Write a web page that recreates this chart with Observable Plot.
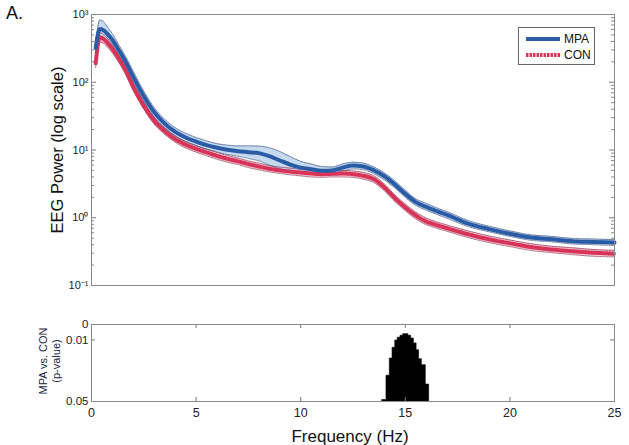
<!DOCTYPE html>
<html><head><meta charset="utf-8">
<script src="https://cdn.jsdelivr.net/npm/d3@7"></script>
<script src="https://cdn.jsdelivr.net/npm/@observablehq/plot@0.6"></script>
<style>
body{margin:0;background:#fff;font-family:"Liberation Sans",Arial,sans-serif;}
#wrap{position:relative;width:629px;height:445px;overflow:hidden;background:#fff}
#wrap svg{display:block}
.lbl{position:absolute;white-space:nowrap;color:#111;line-height:1}
</style></head><body>
<div id="wrap">
  <div id="top"></div>
  <div id="bot"></div>
  <div class="lbl" style="left:6px;top:4px;font-size:18px;">A.</div>
  <div class="lbl" id="ylab1" style="left:57px;top:150px;font-size:16.5px;transform:translate(-50%,-50%) rotate(-90deg);">EEG Power (log scale)</div>
  <div class="lbl" style="left:49px;top:361px;font-size:11px;color:#1b2140;text-align:center;line-height:12.5px;transform:translate(-50%,-50%) rotate(-90deg);">MPA vs. CON<br>(p-value)</div>
  <div class="lbl" style="left:350px;top:436px;font-size:17px;transform:translate(-50%,-50%);">Frequency (Hz)</div>
  <div id="legend" style="position:absolute;left:518px;top:27px;width:75px;height:36px;border:1px solid #666;background:#fff;">
    <svg width="75" height="36" style="position:absolute;left:0;top:0">
      <line x1="7" y1="11" x2="41" y2="11" stroke="#2a5ca6" stroke-width="4"/>
      <line x1="7" y1="27" x2="41" y2="27" stroke="#d8345a" stroke-width="4" stroke-dasharray="2.5,1"/>
      <text x="45" y="15" font-size="12" font-family="Liberation Sans, Arial, sans-serif" fill="#111">MPA</text>
      <text x="45" y="31" font-size="12" font-family="Liberation Sans, Arial, sans-serif" fill="#111">CON</text>
    </svg>
  </div>
</div>
<script>
// ---- Data ----
const freq = [0.2,0.4,0.6,0.8,1.0,1.3,1.6,2.0,2.5,3.0,3.5,4.0,4.5,5.0,5.5,6.0,6.5,7.0,7.5,8.0,8.5,9.0,9.5,10.0,10.5,11.0,11.5,12.0,12.5,13.0,13.5,14.0,14.5,15.0,15.5,16.0,16.5,17.0,18.0,19.0,20.0,21.0,22.0,23.0,24.0,25.0];
const mpaMean = [320,610,580,500,420,300,210,120,62,36,24.5,18.5,15.3,13.3,11.8,10.8,10.1,9.6,9.3,9.0,8.1,7.0,6.1,5.5,5.2,4.95,5.0,5.5,5.9,5.7,5.0,4.1,3.1,2.25,1.7,1.45,1.25,1.1,0.82,0.68,0.58,0.51,0.48,0.45,0.44,0.43];
const mpaLo = [260,470,440,400,340,250,175,100,52,30.5,21,16,13.3,11.6,10.3,9.4,8.6,8.1,7.5,6.9,6.0,5.3,4.8,4.6,4.4,4.3,4.45,4.9,5.25,5.1,4.45,3.6,2.75,2.0,1.52,1.29,1.12,0.98,0.74,0.62,0.53,0.465,0.44,0.41,0.40,0.39];
const mpaHi = [390,830,770,630,520,360,252,144,74,42,28.5,21.3,17.6,15.3,13.6,12.4,11.8,11.5,11.5,11.4,10.8,9.5,8.0,6.8,6.2,5.7,5.6,6.2,6.6,6.4,5.6,4.6,3.5,2.55,1.9,1.63,1.4,1.23,0.91,0.75,0.64,0.56,0.53,0.495,0.485,0.475];
const conMean = [190,460,430,370,310,225,155,85,45,27,19,14.5,12.0,10.4,9.2,8.2,7.4,6.8,6.2,5.7,5.3,5.0,4.8,4.65,4.5,4.4,4.45,4.5,4.4,4.15,3.7,2.8,1.95,1.42,1.08,0.88,0.78,0.70,0.57,0.48,0.42,0.37,0.34,0.32,0.305,0.295];
const conLo = [165,390,370,320,270,197,137,75,40,24,17,13,10.7,9.3,8.2,7.3,6.6,6.1,5.5,5.1,4.75,4.5,4.3,4.15,4.0,3.95,4.0,4.0,3.95,3.7,3.3,2.5,1.74,1.27,0.96,0.79,0.70,0.63,0.51,0.43,0.375,0.33,0.305,0.285,0.27,0.265];
const conHi = [220,540,500,425,355,255,175,96,51,30.3,21.3,16.2,13.4,11.6,10.3,9.2,8.3,7.6,6.9,6.4,5.9,5.6,5.4,5.2,5.0,4.9,5.0,5.0,4.9,4.65,4.15,3.15,2.18,1.59,1.21,0.99,0.87,0.78,0.64,0.54,0.47,0.415,0.38,0.36,0.34,0.33];

// p-value bins (start Hz, end Hz, p)
const pStart = [13.91,14.10,14.26,14.39,14.52,14.64,14.77,14.90,15.15,15.28,15.41,15.54,15.66,15.79,15.98];
const pEnd   = [14.10,14.26,14.39,14.52,14.64,14.77,14.90,15.15,15.28,15.41,15.54,15.66,15.79,15.98,16.14];
const pVal   = [0.049,0.0333,0.0221,0.0151,0.0104,0.0086,0.0073,0.0063,0.0073,0.0091,0.0123,0.0167,0.0225,0.0264,0.039];

// ticks
const yTicksTop = [0.1,1,10,100,1000];
const yTickLabelsTop = ["10\u207B\u00B9","10\u2070","10\u00B9","10\u00B2","10\u00B3"];
const yMinorTop = [0.2,0.3,0.4,0.5,0.6,0.7,0.8,0.9,2,3,4,5,6,7,8,9,20,30,40,50,60,70,80,90,200,300,400,500,600,700,800,900];
const xTicks = [0,5,10,15,20,25];
const xTicksInner = [5,10,15,20];
const yTicksBot = [0,0.01,0.05];
const yTickLabelsBot = ["0","0.01","0.05"];

// ---- Build ----
const rows = freq.map((f,i)=>({f, m:mpaMean[i], mlo:mpaLo[i], mhi:mpaHi[i], c:conMean[i], clo:conLo[i], chi:conHi[i]}));
// step outline of the significance bins (each bin start + final bin end)
const steps = pStart.map((s,i)=>({x:s, p:pVal[i]}));
steps.push({x:pEnd[pEnd.length-1], p:pVal[pVal.length-1]});
const topLab = new Map(yTicksTop.map((t,i)=>[t,yTickLabelsTop[i]]));
const botLab = new Map(yTicksBot.map((t,i)=>[t,yTickLabelsBot[i]]));
const curve = "monotone-x";
const font = "Liberation Sans, Arial, sans-serif";
const W = 629, ML = 91, MR = 15, PW = W-ML-MR;

const topPlot = Plot.plot({
  width: W, height: 300, marginLeft: ML, marginRight: MR, marginTop: 14, marginBottom: 15,
  style: {fontFamily: font, fontSize: "11px", color: "#222", background: "transparent"},
  x: {domain: [0,25], axis: null},
  y: {type: "log", domain: [0.1,1000], axis: null},
  marks: [
    Plot.areaY(rows, {x:"f", y1:"clo", y2:"chi", fill:"#efc6d1", curve}),
    Plot.areaY(rows, {x:"f", y1:"mlo", y2:"mhi", fill:"#bcd3ec", fillOpacity:0.85, curve}),
    Plot.line(rows, {x:"f", y:"clo", stroke:"#8c2e4e", strokeWidth:0.7, strokeDasharray:"2,1", curve}),
    Plot.line(rows, {x:"f", y:"chi", stroke:"#8c2e4e", strokeWidth:0.7, strokeDasharray:"2,1", curve}),
    Plot.line(rows, {x:"f", y:"mlo", stroke:"#3b4f7e", strokeWidth:0.7, strokeDasharray:"2,1", curve}),
    Plot.line(rows, {x:"f", y:"mhi", stroke:"#3b4f7e", strokeWidth:0.7, strokeDasharray:"2,1", curve}),
    Plot.line(rows, {x:"f", y:"c", stroke:"#d8345a", strokeWidth:4, strokeDasharray:"2.5,1", curve}),
    Plot.line(rows, {x:"f", y:"m", stroke:"#2a5ca6", strokeWidth:4, curve}),
    Plot.axisY(yTicksTop, {tickSize:0, tickPadding:3, tickFormat: d=>topLab.get(d), fontSize:11, label:null, fill:"#222"}),
    Plot.tickY(yTicksTop, {y:d=>d, insetRight:PW-5, stroke:"#777"}),
    Plot.tickY(yTicksTop, {y:d=>d, insetLeft:PW-5, stroke:"#777"}),
    Plot.tickY(yMinorTop, {y:d=>d, insetRight:PW-3, stroke:"#888"}),
    Plot.tickY(yMinorTop, {y:d=>d, insetLeft:PW-3, stroke:"#888"}),
    Plot.frame({stroke:"#8a8a8a"})
  ]
});
document.getElementById("top").append(topPlot);

const PH = 145-24-44;
const botPlot = Plot.plot({
  width: W, height: 145, marginLeft: ML, marginRight: MR, marginTop: 24, marginBottom: 44,
  style: {fontFamily: font, fontSize: "12px", color: "#222", background: "transparent"},
  x: {domain: [0,25], axis: null},
  y: {domain: [0.05,0], axis: null},
  marks: [
    Plot.areaY(steps, {x:"x", y1:0.05, y2:"p", curve:"step-after", fill:"#000", stroke:"#000", strokeWidth:0.6}),
    Plot.axisX(xTicks, {tickSize:0, tickPadding:7, fontSize:12.5, label:null, fill:"#222"}),
    Plot.axisY(yTicksBot, {tickSize:0, tickPadding:3, tickFormat: d=>botLab.get(d), fontSize:11.5, label:null, fill:"#222"}),
    Plot.tickX(xTicksInner, {x:d=>d, insetBottom:PH-4, stroke:"#777"}),
    Plot.tickX(xTicksInner, {x:d=>d, insetTop:PH-4, stroke:"#777"}),
    Plot.tickY([0.01], {y:d=>d, insetRight:PW-4, stroke:"#777"}),
    Plot.tickY([0.01], {y:d=>d, insetLeft:PW-4, stroke:"#777"}),
    Plot.frame({stroke:"#8a8a8a"})
  ]
});
document.getElementById("bot").append(botPlot);
</script>
</body></html>
